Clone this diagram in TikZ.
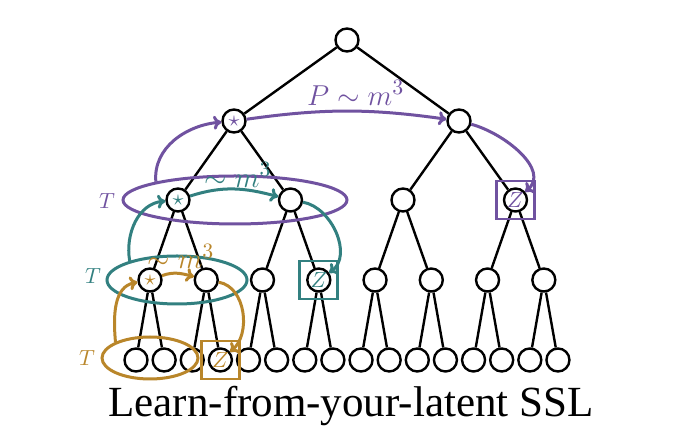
\documentclass[tikz,border=0pt]{standalone}
\usepackage{fontspec}
\newfontfamily\titlefont{Liberation Serif}
\usetikzlibrary{shapes.geometric,arrows.meta}
\definecolor{tpurple}{RGB}{112,82,160}
\definecolor{tteal}{RGB}{50,128,128}
\definecolor{tgold}{RGB}{185,134,42}

\begin{document}
\begin{tikzpicture}[x=0.5pt,y=0.5pt,
    vert/.style={circle,draw,line width=1.2pt,minimum size=11.5pt,inner sep=0pt},
    edge/.style={line width=1.2pt},
    zbox/.style={draw,line width=1.4pt,minimum size=19pt,inner sep=0pt},
    ring/.style={ellipse,draw,line width=1.5pt,inner sep=0pt},
    flow/.style={-{To[length=4pt,width=7pt]},line width=1.5pt},
    lbl/.style={font=\fontsize{15}{16}\selectfont},
    tlbl/.style={font=\fontsize{11}{12}\selectfont},
    nodemark/.style={font=\fontsize{11}{12}\selectfont,inner sep=0pt}]
    \useasboundingbox (0,0) rectangle (680,433);
    % tree
    \node[vert] (r) at (347,393) {};
    \foreach \i in {1,2} \node[vert] (a\i) at ({234+225*(\i-1)},312) {};
    \foreach \i in {1,...,4} \node[vert] (b\i) at ({178+112.5*(\i-1)},233) {};
    \foreach \i in {1,...,8} \node[vert] (c\i) at ({150+56.26*(\i-1)},153) {};
    \foreach \i in {1,...,16} \node[vert] (d\i) at ({136+28.13*(\i-1)},73) {};
    \foreach \i in {1,2} \draw[edge] (r) -- (a\i);
    \foreach \i [evaluate=\i as \l using int(2*\i-1), evaluate=\i as \k using int(2*\i)] in {1,2}
        {\draw[edge] (a\i) -- (b\l); \draw[edge] (a\i) -- (b\k);}
    \foreach \i [evaluate=\i as \l using int(2*\i-1), evaluate=\i as \k using int(2*\i)] in {1,...,4}
        {\draw[edge] (b\i) -- (c\l); \draw[edge] (b\i) -- (c\k);}
    \foreach \i [evaluate=\i as \l using int(2*\i-1), evaluate=\i as \k using int(2*\i)] in {1,...,8}
        {\draw[edge] (c\i) -- (d\l); \draw[edge] (c\i) -- (d\k);}
    % marks in the nodes
    \node[nodemark,text=tpurple] (s1) at (a1) {$\star$};
    \node[nodemark,text=tteal] (s2) at (b1) {$\star$};
    \node[nodemark,text=tgold] (s3) at (c1) {$\star$};
    \node[nodemark,text=tpurple] (z1) at (b4) {$Z$};
    \node[nodemark,text=tteal] (z2) at (c4) {$Z$};
    \node[nodemark,text=tgold] (z3) at (d4) {$Z$};
    \node[zbox,draw=tpurple] (zb1) at (b4) {};
    \node[zbox,draw=tteal] (zb2) at (c4) {};
    \node[zbox,draw=tgold] (zb3) at (d4) {};
    % purple level
    \node[ring,draw=tpurple,minimum width=112pt,minimum height=24pt] (pring) at (235,233) {};
    \node[tlbl,text=tpurple] (pT) at (107,232) {$T$};
    \draw[flow,tpurple] (pring.167) to[out=95,in=185] (a1);
    \draw[flow,tpurple] (a1) to[out=8,in=172] node[lbl,pos=0.55,above=-1pt] (plbl) {$P\sim m^3$} (a2);
    \draw[flow,tpurple] (a2) to[out=-15,in=40] (b4);
    % teal level
    \node[ring,draw=tteal,minimum width=70pt,minimum height=24pt] (tring) at (177,153) {};
    \node[tlbl,text=tteal] (tT) at (93,157) {$T$};
    \draw[flow,tteal] (tring.158) to[out=100,in=185] (b1);
    \draw[flow,tteal] (b1) to[out=18,in=165] node[lbl,pos=0.55,above=-3pt] (tlbl) {$\sim m^3$} (b2);
    \draw[flow,tteal] (b2) to[out=-10,in=35] (c4);
    % gold level
    \node[ring,draw=tgold,minimum width=48pt,minimum height=21pt] (gring) at (150,75) {};
    \node[tlbl,text=tgold] (gT) at (87,75) {$T$};
    \draw[flow,tgold] (gring.155) to[out=95,in=190] (c1);
    \draw[flow,tgold] (c1) to[out=20,in=165] node[lbl,pos=0.6,above=-1.5pt] (glbl) {$\sim m^3$} (c2);
    \draw[flow,tgold] (c2) to[out=-10,in=40] (d4);
    % caption
    \node[font=\titlefont\fontsize{21.5}{24}\selectfont,anchor=base] (title) at (351,16) {Learn-from-your-latent SSL};
\end{tikzpicture}
\end{document}
